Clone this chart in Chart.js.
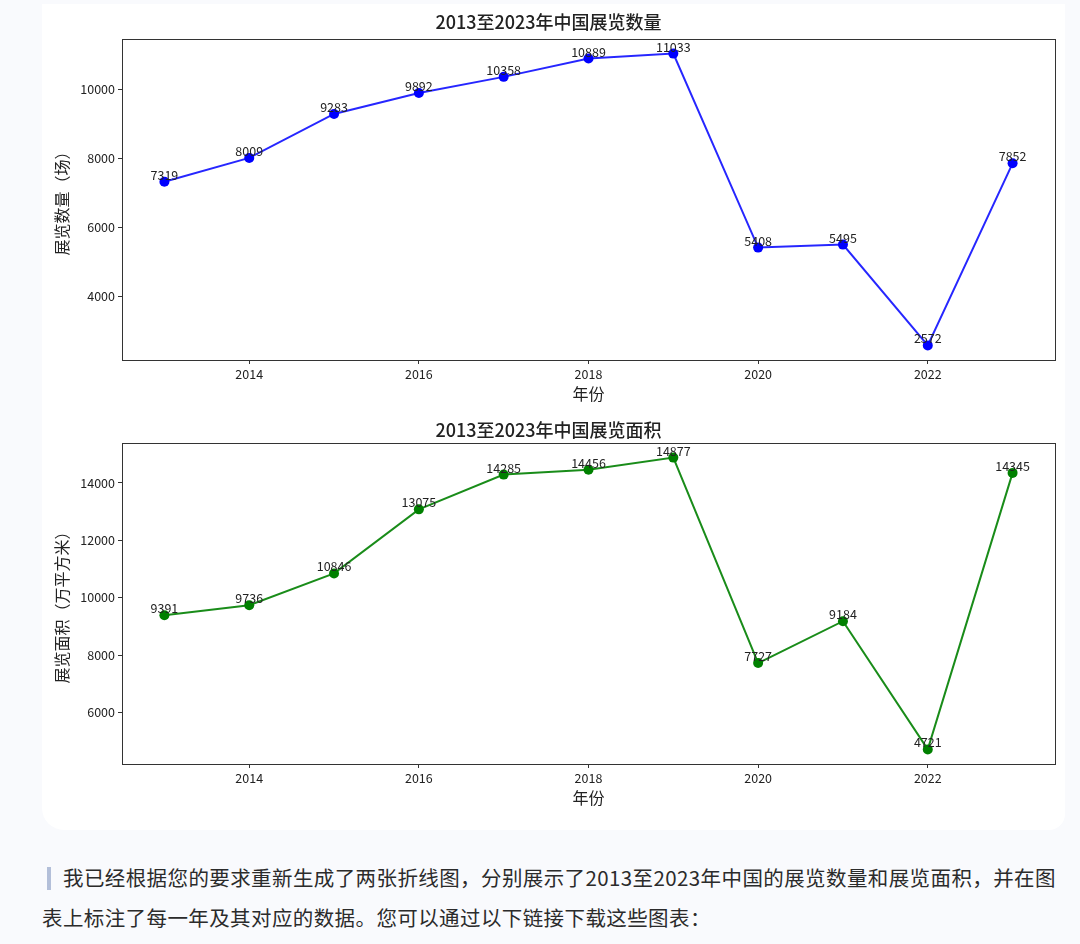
<!DOCTYPE html>
<html>
<head>
<meta charset="utf-8">
<script src="https://cdn.jsdelivr.net/npm/chart.js@4.4.1/dist/chart.umd.min.js"></script>
<style>
  html, body { margin:0; padding:0; background:#f9fafd; width:1080px; height:944px; overflow:hidden; }
  .card { position:absolute; left:42px; top:4px; width:1023px; height:826px; background:#fff; border-radius:0 0 16px 22px; }
  .cv { position:absolute; left:42px; width:1023px; height:415px; }
  #c1 { top:0; }
  #c2 { top:404px; }
  .msg { position:absolute; left:42px; top:857px; width:1035px; font-family:"Noto Sans CJK SC", sans-serif; font-size:20.5px; letter-spacing:0.4px; line-height:40px; color:#2b2b2b; }
  .bar { display:inline-block; width:4px; height:23px; background:#b3bfd9; vertical-align:-4px; margin:0 12px 0 5px; }
</style>
</head>
<body>
<div class="card"></div>
<canvas id="c1" class="cv" width="1023" height="415"></canvas>
<canvas id="c2" class="cv" width="1023" height="415"></canvas>
<div class="msg"><span class="bar"></span>我已经根据您的要求重新生成了两张折线图，分别展示了2013至2023年中国的展览数量和展览面积，并在图<br>表上标注了每一年及其对应的数据。您可以通过以下链接下载这些图表：</div>

<script>
  // 数据
  const years = [2013, 2014, 2015, 2016, 2017, 2018, 2019, 2020, 2021, 2022, 2023];
  const countData = [7319, 8009, 9283, 9892, 10358, 10889, 11033, 5408, 5495, 2572, 7852];
  const areaData = [9391, 9736, 10846, 13075, 14285, 14456, 14877, 7727, 9184, 4721, 14345];
  const xTicks = [2014, 2016, 2018, 2020, 2022];
  const countTicks = [4000, 6000, 8000, 10000];
  const areaTicks = [6000, 8000, 10000, 12000, 14000];

  const fam = '"Noto Sans CJK SC", "DejaVu Sans", sans-serif';
  Chart.defaults.font.family = fam;
  Chart.defaults.color = '#222';

  // 边框 + 数据标注
  const boxAndLabels = {
    id: 'boxAndLabels',
    afterDatasetsDraw(chart) {
      const ctx = chart.ctx, a = chart.chartArea;
      ctx.save();
      ctx.strokeStyle = '#333';
      ctx.lineWidth = 1;
      ctx.strokeRect(a.left + 0.5, a.top + 0.5, a.right - a.left, a.bottom - a.top);
      ctx.font = '12.5px ' + fam;
      ctx.fillStyle = '#222';
      ctx.textAlign = 'center';
      ctx.textBaseline = 'alphabetic';
      const ds = chart.data.datasets[0];
      chart.getDatasetMeta(0).data.forEach((p, i) => {
        ctx.fillText(String(ds.data[i].y), p.x, p.y - 2);
      });
      ctx.restore();
    }
  };

  function makeChart(id, title, yTitle, values, ticks, color, lineColor, titlePad) {
    const lo = Math.min(...values), hi = Math.max(...values), m = (hi - lo) * 0.05;
    return new Chart(document.getElementById(id), {
      type: 'line',
      data: {
        datasets: [{
          data: years.map((y, i) => ({ x: y, y: values[i] })),
          borderColor: lineColor,
          borderWidth: 2,
          pointRadius: 5,
          pointBackgroundColor: color,
          pointBorderWidth: 0,
          tension: 0
        }]
      },
      options: {
        responsive: false,
        animation: false,
        devicePixelRatio: 1,
        layout: { padding: { left: 0, right: 10, top: 0, bottom: 0 } },
        plugins: {
          legend: { display: false },
          tooltip: { enabled: false },
          title: {
            display: true, text: title, color: '#222',
            font: { size: 18, weight: 500, lineHeight: 1.2 },
            padding: titlePad
          }
        },
        scales: {
          x: {
            type: 'linear', min: 2012.5, max: 2023.5,
            afterBuildTicks: s => { s.ticks = xTicks.map(v => ({ value: v })); },
            afterFit: s => { s.height = 55; },
            grid: { drawOnChartArea: false, drawTicks: true, tickLength: 4, color: '#333' },
            border: { display: false },
            ticks: { font: { size: 12.5 }, color: '#222', padding: 3, maxRotation: 0, callback: v => String(v) },
            title: { display: true, text: '年份', font: { size: 16 }, color: '#222', padding: { top: 0, bottom: 11 } }
          },
          y: {
            min: lo - m, max: hi + m,
            afterBuildTicks: s => { s.ticks = ticks.map(v => ({ value: v })); },
            afterFit: s => { s.width = 80; },
            grid: { drawOnChartArea: false, drawTicks: true, tickLength: 4, color: '#333' },
            border: { display: false },
            ticks: { font: { size: 12.5 }, color: '#222', padding: 3, callback: v => String(v) },
            title: { display: true, text: yTitle, font: { size: 16 }, color: '#222', padding: { top: 10, bottom: 0 } }
          }
        }
      },
      plugins: [boxAndLabels]
    });
  }

  makeChart('c1', '2013至2023年中国展览数量', '展览数量（场）', countData, countTicks,
    '#0000ff', 'rgba(0,0,255,0.85)', { top: 11, bottom: 6.4 });
  makeChart('c2', '2013至2023年中国展览面积', '展览面积（万平方米）', areaData, areaTicks,
    '#008000', 'rgba(0,128,0,0.9)', { top: 15, bottom: 2.4 });
</script>
</body>
</html>
